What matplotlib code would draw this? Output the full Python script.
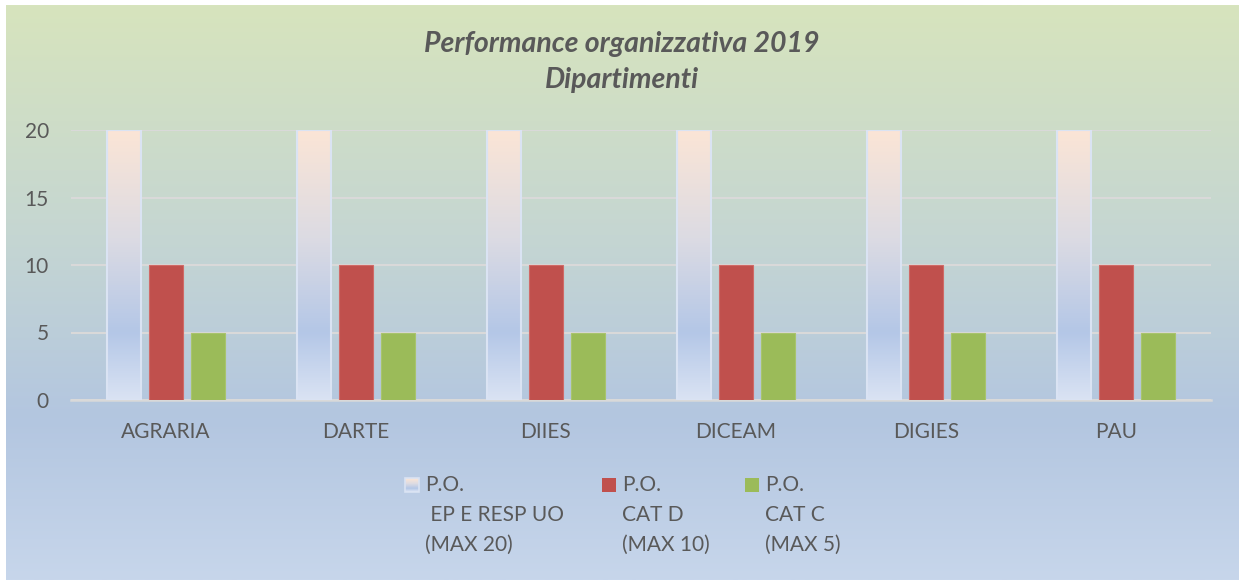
import numpy as np
import matplotlib
matplotlib.use("Agg")
import matplotlib.pyplot as plt
from matplotlib.colors import LinearSegmentedColormap
from matplotlib.patches import Rectangle

categories = ['AGRARIA', 'DARTE', 'DIIES', 'DICEAM', 'DIGIES', 'PAU']
po_ep_resp = [20, 20, 20, 20, 20, 20]
po_cat_d = [10, 10, 10, 10, 10, 10]
po_cat_c = [5, 5, 5, 5, 5, 5]
series_labels = ['P.O.\n EP E RESP UO\n(MAX 20)', 'P.O.\nCAT D\n(MAX 10)', 'P.O.\nCAT C\n(MAX 5)']
yticks = [0, 5, 10, 15, 20]

TXT = '#595959'
RED = '#c0504d'
GREEN = '#9bbb59'
plt.rcParams['font.family'] = ['Lato', 'DejaVu Sans']

W, H = 1239, 580
fig = plt.figure(figsize=(W / 100, H / 100), dpi=100)
fig.patch.set_facecolor('white')

# background gradient of the chart area
bg = fig.add_axes([6 / W, 0, 1 - 6 / W, 1 - 5 / H], zorder=-5)
bg_cmap = LinearSegmentedColormap.from_list(
    'bg', [(0, '#d7e4bd'), (0.4, '#c5d6d2'), (0.72, '#b3c6e0'), (1, '#c7d6eb')])
bg.imshow(np.linspace(0, 1, 256).reshape(-1, 1), cmap=bg_cmap, aspect='auto',
          extent=[0, 1, 0, 1], origin='upper')
bg.set_axis_off()

ax = fig.add_axes([71 / W, 180 / H, 1140 / W, 270 / H])
ax.patch.set_alpha(0)
x = np.arange(len(categories))
bw = 0.174
off = 0.221

bar_cmap = LinearSegmentedColormap.from_list(
    'bar', [(0, '#fbe5d6'), (0.4, '#dcdbe3'), (0.75, '#b4c7e7'), (1, '#dae3f3')])
bars1 = ax.bar(x - off, po_ep_resp, bw, color='none', edgecolor='#dae3f3', lw=1.5, zorder=3)
for b in bars1:
    x0, y0 = b.get_x(), b.get_y()
    im = ax.imshow(np.linspace(0, 1, 256).reshape(-1, 1), cmap=bar_cmap, aspect='auto',
                   extent=[x0, x0 + b.get_width(), y0, y0 + b.get_height()],
                   origin='upper', zorder=2)
    im.set_clip_path(b)
ax.bar(x, po_cat_d, bw, color=RED, edgecolor='#d06a67', lw=0.8, zorder=3)
ax.bar(x + off, po_cat_c, bw, color=GREEN, edgecolor='#a8c46c', lw=0.8, zorder=3)

ax.set_xlim(-0.5, len(categories) - 0.5)
ax.set_ylim(0, 20)
ax.set_yticks(yticks)
ax.set_xticks(x)
ax.set_xticklabels(categories)
ax.tick_params(axis='both', length=0, labelsize=15, colors=TXT)
ax.tick_params(axis='y', pad=16)
ax.tick_params(axis='x', pad=16)
ax.grid(axis='y', color='#d9d9d9', lw=1.5, zorder=0)
for s in ['top', 'right', 'left']:
    ax.spines[s].set_visible(False)
ax.spines['bottom'].set_color('#d9d9d9')
ax.spines['bottom'].set_linewidth(1.8)

fig.text(622 / W, 1 - 62 / H, 'Performance organizzativa 2019\nDipartimenti',
         ha='center', va='center', fontsize=20.5, fontweight='bold', style='italic',
         color=TXT, linespacing=1.5)

# legend
hx = [405, 602, 745]
for i, (lab, hxi) in enumerate(zip(series_labels, hx)):
    if i == 0:
        fig.figimage(np.repeat(np.linspace(0, 1, 14).reshape(-1, 1), 14, axis=1),
                     cmap=bar_cmap, xo=hxi, yo=H - 492, origin='upper', zorder=3)
        fig.add_artist(Rectangle((hxi / W, 1 - 492 / H), 14 / W, 14 / H,
                                 transform=fig.transFigure, facecolor='none',
                                 edgecolor='#dae3f3', lw=1.2, zorder=4))
    else:
        fig.add_artist(Rectangle((hxi / W, 1 - 492 / H), 14 / W, 14 / H,
                                 transform=fig.transFigure,
                                 facecolor=[RED, GREEN][i - 1], edgecolor='none'))
    fig.text((hxi + 20) / W, 1 - 475 / H, lab, ha='left', va='top', fontsize=15,
             color=TXT, linespacing=1.63)

fig.savefig('out.png', dpi=100)
